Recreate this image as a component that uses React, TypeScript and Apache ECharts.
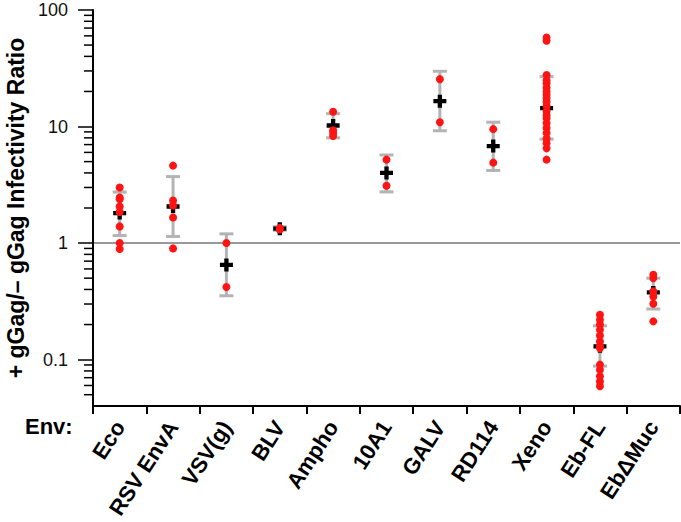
import React, { useEffect, useRef } from 'react';
import * as echarts from 'echarts';

const categories = ['Eco', 'RSV EnvA', 'VSV(g)', 'BLV', 'Ampho', '10A1', 'GALV', 'RD114', 'Xeno', 'Eb-FL', 'Eb\u0394Muc'];

const ecoPoints = [3.0, 2.46, 2.38, 2.06, 1.85, 1.39, 1.0, 0.89];
const rsvEnvAPoints = [4.62, 2.32, 2.1, 1.66, 0.9];
const vsvgPoints = [1.0, 0.42];
const blvPoints = [1.31, 1.35];
const amphoPoints = [13.4, 9.3, 8.8, 8.3];
const a10A1Points = [5.2, 3.1];
const galvPoints = [25.5, 10.9];
const rd114Points = [9.5, 4.9];
const xenoPoints = [58, 54.5, 27.7, 25, 23.5, 21.5, 19.9, 18.7, 17.5, 16.3, 15, 13.5, 12.5, 11.8, 10.7, 9.7, 8.8, 7.9, 7.2, 6.5, 5.2];
const ebFLPoints = [0.243, 0.22, 0.2, 0.181, 0.161, 0.143, 0.13, 0.125, 0.0906, 0.082, 0.072, 0.065, 0.059];
const ebDMucPoints = [0.535, 0.5, 0.385, 0.348, 0.302, 0.213];

const means = [1.81, 2.06, 0.65, 1.33, 10.2, 4.0, 16.5, 6.8, 14.4, 0.13, 0.377];
const errLow = [1.16, 1.14, 0.353, 1.29, 8.0, 2.75, 9.2, 4.2, 7.8, 0.088, 0.272];
const errHigh = [2.74, 3.72, 1.2, 1.38, 12.9, 5.7, 29.8, 10.9, 26.8, 0.195, 0.5];

const majorTicks = [0.1, 1, 10, 100];
const minorTicks = [
  0.05, 0.06, 0.07, 0.08, 0.09,
  0.2, 0.3, 0.4, 0.5, 0.6, 0.7, 0.8, 0.9,
  2, 3, 4, 5, 6, 7, 8, 9,
  20, 30, 40, 50, 60, 70, 80, 90,
];

const FONT = '"Liberation Sans", Arial, Helvetica, sans-serif';

export default function App() {
  const ref = useRef<HTMLDivElement>(null);
  useEffect(() => {
    if (!ref.current) return;
    const chart = echarts.init(ref.current, null, { renderer: 'svg' });
    const groups = [ecoPoints, rsvEnvAPoints, vsvgPoints, blvPoints, amphoPoints, a10A1Points, galvPoints, rd114Points, xenoPoints, ebFLPoints, ebDMucPoints];
    const pointData: number[][] = [];
    groups.forEach((g, i) => g.forEach((v) => pointData.push([i, v])));
    const meanData = means.map((v, i) => [i, v]);
    const errData = means.map((_, i) => [i, errLow[i], errHigh[i]]);

    chart.setOption({
      animation: false,
      grid: { left: 93, top: 10, right: 1, bottom: 116, containLabel: false, outerBoundsMode: 'none' },
      xAxis: {
        type: 'category',
        data: categories,
        boundaryGap: true,
        axisLine: { show: true, lineStyle: { color: '#000', width: 2 } },
        axisTick: { show: true, alignWithLabel: false, interval: 0, length: 8, lineStyle: { color: '#000', width: 2 } },
        axisLabel: {
          interval: 0,
          rotate: 57,
          margin: 17,
          color: '#000',
          fontFamily: FONT,
          fontWeight: 'bold',
          fontSize: 22,
        },
        splitLine: { show: false },
      },
      yAxis: {
        type: 'log',
        logBase: 10,
        min: 0.04,
        max: 100,
        name: '+ gGag/\u2013 gGag Infectivity Ratio',
        nameLocation: 'middle',
        nameRotate: 90,
        nameGap: 66,
        nameTextStyle: { fontFamily: FONT, fontWeight: 'bold', fontSize: 23, color: '#000' },
        axisLine: { show: true, lineStyle: { color: '#000', width: 2 } },
        axisTick: { show: true, length: 15, customValues: majorTicks, lineStyle: { color: '#000', width: 1.5 } },
        axisLabel: {
          customValues: majorTicks,
          margin: 25,
          color: '#111',
          fontFamily: FONT,
          fontSize: 18,
          formatter: (v: number) => String(v),
        },
        minorTick: { show: false },
        splitLine: { show: false },
      },
      graphic: [
        {
          type: 'text',
          left: 25,
          top: 415,
          style: { text: 'Env:', fontFamily: FONT, fontWeight: 'bold', fontSize: 22, fill: '#000' },
        },
      ],
      series: [
        {
          type: 'custom',
          name: 'minorTicks',
          silent: true,
          z: 1,
          clip: false,
          data: minorTicks.map((v) => [0, v]),
          encode: { x: 0, y: 1 },
          renderItem: (params: any, api: any) => {
            const p = api.coord([0, api.value(1)]);
            const x0 = params.coordSys.x;
            return {
              type: 'line',
              shape: { x1: x0 - 9, y1: p[1], x2: x0, y2: p[1] },
              style: { stroke: '#000', lineWidth: 1.5 },
            };
          },
        },
        {
          type: 'custom',
          name: 'errors',
          silent: true,
          z: 2,
          data: errData,
          encode: { x: 0, y: [1, 2] },
          renderItem: (params: any, api: any) => {
            const i = api.value(0);
            const lo = api.coord([i, api.value(1)]);
            const hi = api.coord([i, api.value(2)]);
            const w = 7;
            const st = { stroke: '#b3b3b3', lineWidth: 3 };
            return {
              type: 'group',
              children: [
                { type: 'line', shape: { x1: lo[0], y1: lo[1], x2: hi[0], y2: hi[1] }, style: st },
                { type: 'line', shape: { x1: lo[0] - w, y1: lo[1], x2: lo[0] + w, y2: lo[1] }, style: st },
                { type: 'line', shape: { x1: hi[0] - w, y1: hi[1], x2: hi[0] + w, y2: hi[1] }, style: st },
              ],
            };
          },
        },
        {
          type: 'scatter',
          name: 'means',
          z: 3,
          symbol: 'path://M4,0h4v4h4v4h-4v4h-4v-4h-4v-4h4z',
          symbolSize: 13,
          itemStyle: { color: '#000', opacity: 1 },
          data: meanData,
        },
        {
          type: 'scatter',
          name: 'points',
          z: 4,
          symbol: 'circle',
          symbolSize: 8,
          itemStyle: { color: '#ff1414', opacity: 1 },
          data: pointData,
          markLine: {
            silent: true,
            symbol: 'none',
            label: { show: false },
            lineStyle: { color: '#999', width: 2, type: 'solid' },
            data: [{ yAxis: 1 }],
            z: 0,
          },
        },
      ],
    });
    return () => chart.dispose();
  }, []);
  return <div ref={ref} style={{ position: 'absolute', left: 0, top: 0, width: 681, height: 522 }} />;
}
